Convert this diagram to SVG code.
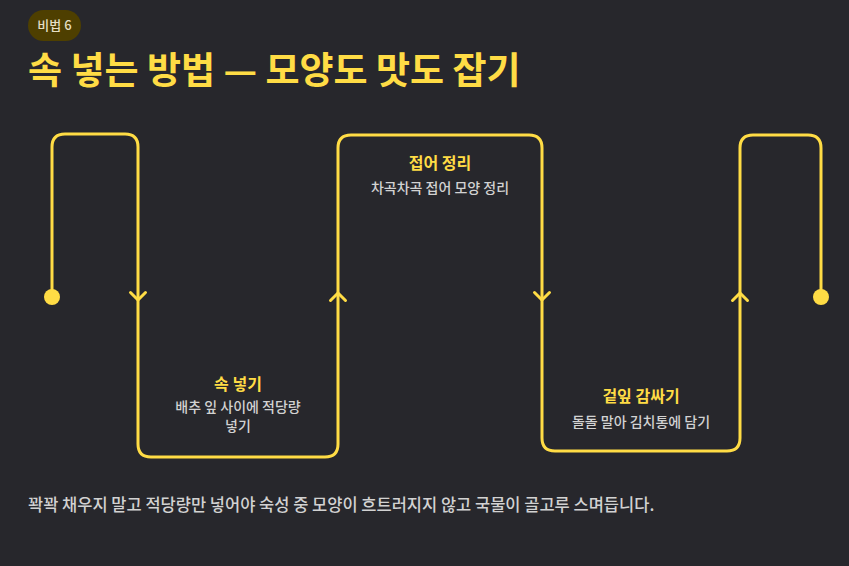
<svg xmlns="http://www.w3.org/2000/svg" width="849" height="566" viewBox="0 0 849 566">
<style>
text{font-family:"Noto Sans CJK KR","Noto Sans",sans-serif}
.h{fill:#ffdc45;font-weight:700;font-size:16px;text-anchor:middle}
.s{fill:#d2d2d2;font-weight:500;font-size:14px;text-anchor:middle}
.ln{fill:none;stroke:#ffdc45;stroke-width:3;stroke-linecap:round;stroke-linejoin:round}
</style>
<rect width="849" height="566" fill="#27272c"/>
<g id="badge">
<rect x="28" y="10" width="53" height="31" rx="15.5" fill="#4e3f00"/>
<text x="54.5" y="30" font-size="13" font-weight="500" fill="#e6dfc4" text-anchor="middle">비법 6</text>
</g>
<g id="title">
<text x="28" y="84" font-size="37" font-weight="700" fill="#ffdc45">속 넣는 방법 — 모양도 맛도 잡기</text>
</g>
<g id="connectors">
<path class="ln" d="M52,297 V147 Q52,134 65,134 H125 Q138,134 138,147 V444 Q138,457 151,457 H325 Q338,457 338,444 V148 Q338,135 351,135 H529 Q542,135 542,148 V438 Q542,451 555,451 H727 Q740,451 740,438 V148 Q740,135 753,135 H808 Q821,135 821,148 V297"/>
<circle cx="52" cy="297" r="8" fill="#ffdc45"/>
<circle cx="821" cy="297" r="8" fill="#ffdc45"/>
<path class="ln" stroke-width="2" d="M130.5,292.5 L138,300 L145.5,292.5"/>
<path class="ln" stroke-width="2" d="M330.5,300.5 L338,293 L345.5,300.5"/>
<path class="ln" stroke-width="2" d="M534.5,292.5 L542,300 L549.5,292.5"/>
<path class="ln" stroke-width="2" d="M732.5,300.5 L740,293 L747.5,300.5"/>
</g>
<g id="node-fold">
<text class="h" x="440" y="169">접어 정리</text>
<text class="s" x="440" y="193">차곡차곡 접어 모양 정리</text>
</g>
<g id="node-fill">
<text class="h" x="238" y="390">속 넣기</text>
<text class="s" x="238" y="412">배추 잎 사이에 적당량</text>
<text class="s" x="238" y="431">넣기</text>
</g>
<g id="node-wrap">
<text class="h" x="641" y="402">겉잎 감싸기</text>
<text class="s" x="641" y="427">돌돌 말아 김치통에 담기</text>
</g>
<g id="footer">
<text x="28" y="511" font-size="16.5" font-weight="500" fill="#d2d2d2">꽉꽉 채우지 말고 적당량만 넣어야 숙성 중 모양이 흐트러지지 않고 국물이 골고루 스며듭니다.</text>
</g>
</svg>
